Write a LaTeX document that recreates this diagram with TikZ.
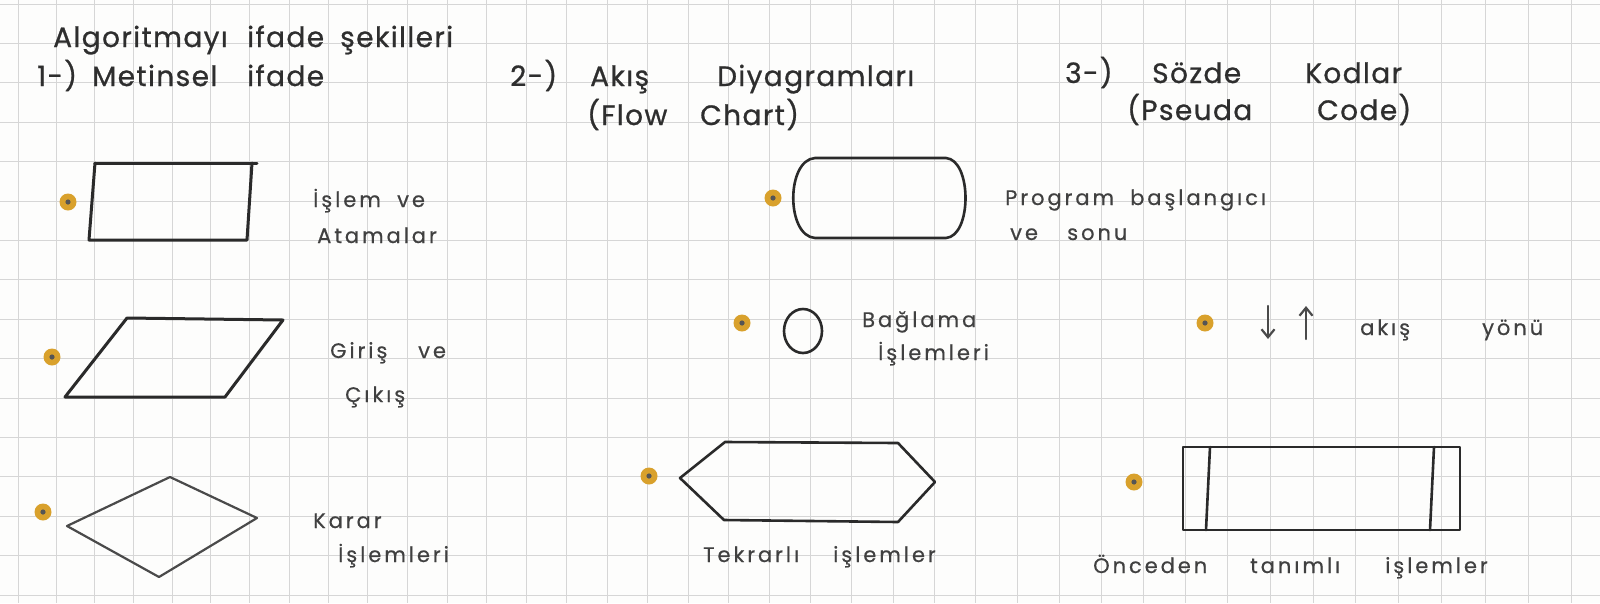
\documentclass[tikz,border=0pt]{standalone}
\usepackage{fontspec}
\setmainfont{Poppins}
\newfontfamily\headfont{Poppins}[LetterSpace=5,FakeBold=0.8]
\newfontfamily\labfont{Poppins}[LetterSpace=14,FakeBold=0.5]
\usetikzlibrary{arrows.meta}
\definecolor{paper}{HTML}{FDFDFC}
\definecolor{gridc}{HTML}{D6D6D6}
\definecolor{ink}{HTML}{2E2E2E}
\definecolor{softink}{HTML}{404040}
\definecolor{pen}{HTML}{2A2A2A}
\definecolor{dotc}{HTML}{D9A12C}
\tikzset{
  gridline/.style={gridc, line width=0.9pt},
  shapeline/.style={pen, line width=3pt, line join=round, line cap=round},
  thinline/.style={pen!85, line width=2.2pt, line join=round, line cap=round},
  head/.style={anchor=base west, inner sep=0pt, text=ink, font=\headfont\fontsize{28}{32}\selectfont},
  lab/.style={anchor=base west, inner sep=0pt, text=softink, font=\labfont\fontsize{21}{25}\selectfont},
  bullet/.style={fill=dotc},
}
\newcommand\bul[1]{\fill[bullet] #1 circle (8.5); \fill[pen!80] #1 circle (2.6);}
\begin{document}
\begin{tikzpicture}[x=1pt, y=-1pt]
\useasboundingbox (0,0) rectangle (1600,603);
\fill[paper] (0,0) rectangle (1600,603);

% squared notebook paper
\foreach \k in {0,...,38}
  \draw[gridline] ({18+38.3*\k+0.07*\k*(\k-1)},0) -- ++(0,603);
\foreach \j in {0,...,15}
  \draw[gridline] (0,{4+39.4*\j}) -- ++(1600,0);

% headings
\node[head] (h1a) at (53,47) {Algoritmayı};
\node[head] (h1b) at (247,47) {ifade};
\node[head] (h1c) at (340,47) {şekilleri};
\node[head] (h2a) at (37,86) {1-)};
\node[head] (h2b) at (92,86) {Metinsel};
\node[head] (h2c) at (247,86) {ifade};
\node[head] (h3a) at (510,86) {2-)};
\node[head] (h3b) at (590,86) {Akış};
\node[head] (h3c) at (717,86) {Diyagramları};
\node[head] (h3d) at (587,125) {(Flow};
\node[head] (h3e) at (700,125) {Chart)};
\node[head] (h4a) at (1065,83) {3-)};
\node[head] (h4b) at (1152,83) {Sözde};
\node[head] (h4c) at (1305,83) {Kodlar};
\node[head] (h4d) at (1127,120) {(Pseuda};
\node[head] (h4e) at (1317,120) {Code)};

% process
\bul{(68,202)}
\draw[shapeline] (95,163) -- (257,163);
\draw[shapeline] (95,163) -- (89,240) -- (247,240) -- (252,163);
\node[lab] (l1a) at (313,207) {İşlem};
\node[lab] (l1b) at (397,207) {ve};
\node[lab] (l1c) at (317,243) {Atamalar};

% input / output
\bul{(52,357)}
\draw[shapeline] (127,318) -- (283,320) -- (225,397) -- (65,397) -- cycle;
\node[lab] (l2a) at (330,358) {Giriş};
\node[lab] (l2b) at (418,358) {ve};
\node[lab] (l2c) at (345,402) {Çıkış};

% decision
\bul{(43,512)}
\draw[thinline] (67,526) -- (170,477) -- (257,518) -- (159,577) -- cycle;
\node[lab] (l3a) at (313,528) {Karar};
\node[lab] (l3b) at (338,562) {İşlemleri};

% terminator
\bul{(773,198)}
\draw[shapeline, line width=2.6pt] (815,158) -- (946,158)
  .. controls (972,160) and (972,236) .. (946,238) -- (815,238)
  .. controls (786,236) and (786,160) .. (815,158);
\node[lab] (l4a) at (1005,205) {Program};
\node[lab] (l4b) at (1130,205) {başlangıcı};
\node[lab] (l4c) at (1010,240) {ve};
\node[lab] (l4d) at (1067,240) {sonu};

% connector
\bul{(742,323)}
\draw[shapeline, line width=2.6pt] (803,331) ellipse [x radius=19, y radius=22];
\node[lab] (l5a) at (862,327) {Bağlama};
\node[lab] (l5b) at (878,360) {İşlemleri};

% flow direction
\bul{(1205,323)}
\draw[thinline, -{Straight Barb[length=8pt,width=13pt]}] (1268,306) -- (1268,339);
\draw[thinline, -{Straight Barb[length=8pt,width=13pt]}] (1306,339) -- (1306,306);
\node[lab] (l6a) at (1360,335) {akış};
\node[lab] (l6b) at (1482,335) {yönü};

% loop
\bul{(649,476)}
\draw[shapeline, line width=2.6pt] (680,478) -- (725,442) -- (898,443) -- (935,482) -- (898,522) -- (724,520) -- cycle;
\node[lab] (l7a) at (703,562) {Tekrarlı};
\node[lab] (l7b) at (833,562) {işlemler};

% predefined process
\bul{(1134,482)}
\draw[shapeline, line width=2.6pt] (1183,447) rectangle (1460,530);
\draw[shapeline, line width=2.6pt] (1210,447) -- (1206,530);
\draw[shapeline, line width=2.6pt] (1434,447) -- (1430,530);
\node[lab] (l8a) at (1093,573) {Önceden};
\node[lab] (l8b) at (1250,573) {tanımlı};
\node[lab] (l8c) at (1385,573) {işlemler};
\end{tikzpicture}
\end{document}
